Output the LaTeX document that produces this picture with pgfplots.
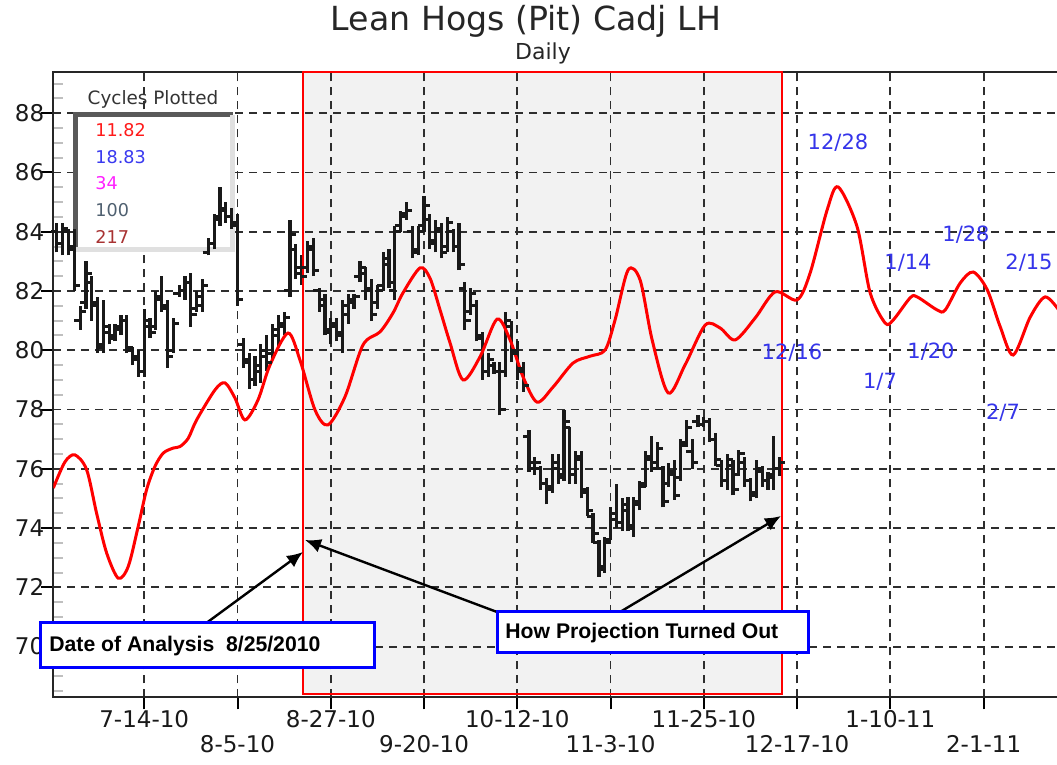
\documentclass[border=0pt]{standalone}
\usepackage{pgfplots}
\pgfplotsset{compat=1.18}
\usepackage{pgfplotstable}
\usepackage{fontspec}
\setmainfont{DejaVu Sans}
\newfontfamily\arialfont{Liberation Sans}
\usetikzlibrary{arrows.meta}
\definecolor{shade}{HTML}{F2F2F2}
\definecolor{lblue}{HTML}{3535EA}
\definecolor{cA}{HTML}{FF1A1A}
\definecolor{cB}{HTML}{3A3AF0}
\definecolor{cC}{HTML}{FF22FF}
\definecolor{cD}{HTML}{4F6070}
\definecolor{cE}{HTML}{A83232}
\pgfdeclareplotmark{ohlcopen}{\pgfpathmoveto{\pgfqpoint{-2.9pt}{0pt}}\pgfpathlineto{\pgfqpoint{0pt}{0pt}}\pgfusepathqstroke}
\pgfdeclareplotmark{ohlcclose}{\pgfpathmoveto{\pgfqpoint{0pt}{0pt}}\pgfpathlineto{\pgfqpoint{2.9pt}{0pt}}\pgfusepathqstroke}

\pgfplotstableread{
k O H L C
-15 84.0 84.3 83.3 83.6
-14 83.6 84.3 83.2 84.1
-13 84.0 84.1 83.2 83.4
-12 83.5 84.1 82.0 82.2
-11 81.0 81.5 80.7 81.3
-10 81.6 83.0 81.4 82.6
-9 82.3 82.5 81.0 81.5
-8 81.6 81.8 79.9 80.1
-7 80.2 81.7 79.9 80.8
-6 80.6 80.9 80.2 80.4
-5 80.5 80.9 80.3 80.8
-4 80.7 81.2 80.5 81.0
-3 81.0 81.2 79.9 80.1
-2 80.0 80.1 79.5 79.7
-1 79.8 80.0 79.1 79.3
0 79.3 81.4 79.1 81.0
1 80.8 81.1 80.4 80.6
2 80.8 82.0 80.7 81.8
3 81.7 82.5 81.3 81.5
4 81.4 81.7 79.4 79.8
5 80.0 81.1 79.9 80.9
6 81.9 82.2 81.8 82.0
7 82.0 82.5 81.7 82.3
8 82.3 82.6 80.8 81.2
9 81.4 82.0 81.3 81.8
10 81.5 82.4 81.3 82.2
11 83.3 83.8 83.2 83.6
12 83.6 84.6 83.4 84.5
13 84.4 85.5 84.2 84.7
14 84.8 85.0 84.3 84.5
15 84.5 84.8 84.1 84.3
16 84.2 84.6 81.5 81.7
17 80.2 80.4 79.4 79.6
18 79.7 79.9 78.7 79.0
19 79.0 79.8 78.8 79.5
20 79.3 80.2 78.9 80.0
21 79.8 80.5 79.3 79.6
22 79.9 80.9 79.7 80.7
23 80.5 81.2 80.1 80.9
24 80.8 81.3 80.5 81.1
25 82.0 84.4 81.8 83.9
26 83.4 83.6 82.4 82.8
27 82.6 83.2 82.2 82.5
28 82.8 83.7 82.6 83.5
29 83.4 83.8 82.5 82.7
30 82.0 82.1 81.3 81.5
31 81.7 81.9 80.5 80.7
32 80.6 81.1 80.2 80.9
33 80.8 81.1 80.3 80.5
34 80.6 81.7 79.9 81.5
35 81.2 81.9 80.9 81.7
36 81.6 81.9 81.4 81.8
37 82.5 83.0 82.3 82.8
38 82.6 82.8 81.7 82.0
39 82.1 82.4 81.0 81.2
40 81.6 82.2 81.4 82.0
41 82.2 83.3 82.0 83.1
42 82.9 83.4 82.1 82.3
43 82.0 84.2 81.7 84.0
44 84.2 84.7 84.0 84.5
45 84.6 85.0 84.4 84.7
46 84.0 84.2 83.1 83.3
47 83.4 84.2 83.2 84.0
48 84.2 85.2 84.0 84.9
49 84.4 84.6 83.4 83.6
50 83.7 84.4 83.3 84.1
51 84.0 84.3 83.1 83.3
52 83.5 84.5 83.3 84.3
53 84.0 84.1 83.3 83.5
54 83.5 84.3 82.7 82.9
55 82.1 82.3 80.7 81.0
56 81.3 82.1 81.2 81.9
57 81.5 81.7 80.3 80.5
58 80.4 80.6 79.0 79.3
59 79.3 79.9 79.1 79.7
60 79.5 79.6 79.2 79.3
61 79.3 79.6 77.8 78.0
62 79.3 81.3 79.1 81.0
63 80.8 81.0 79.6 79.9
64 80.0 80.3 79.0 79.3
65 79.4 79.6 78.6 78.8
66 77.1 77.3 75.9 76.2
67 76.0 76.4 75.8 76.2
68 76.0 76.1 75.3 75.5
69 75.5 75.7 74.8 75.3
70 75.4 76.5 75.2 76.2
71 76.0 76.5 75.5 75.7
72 75.8 78.0 75.6 77.6
73 77.4 77.4 75.5 75.8
74 75.8 76.6 75.5 76.4
75 76.3 76.6 75.0 75.2
76 75.3 75.4 74.4 74.6
77 74.4 74.5 73.5 73.8
78 73.5 73.6 72.35 72.6
79 72.7 73.7 72.5 73.5
80 73.6 74.7 73.6 74.5
81 74.3 75.5 74.0 74.2
82 74.2 75.0 73.9 74.8
83 74.6 75.05 73.9 74.0
84 74.1 75.05 73.7 74.9
85 74.8 75.6 74.6 75.4
86 75.5 76.6 75.4 76.4
87 76.3 77.1 75.9 76.0
88 76.2 76.9 76.0 76.7
89 76.0 76.1 74.7 74.9
90 75.5 76.2 75.4 75.9
91 75.8 76.3 74.95 75.1
92 75.7 77.0 75.6 76.8
93 76.9 77.65 76.75 77.4
94 76.6 77.0 76.0 76.2
95 77.6 77.8 77.4 77.5
96 77.5 77.75 77.4 77.6
97 77.6 77.7 76.9 77.0
98 77.0 77.2 76.1 76.3
99 76.1 76.3 75.4 75.6
100 75.6 76.5 75.3 76.3
101 76.1 76.3 75.1 75.3
102 75.8 76.65 75.75 76.5
103 76.2 76.4 75.4 75.6
104 75.6 75.7 74.9 75.1
105 75.2 76.3 75.0 76.0
106 75.9 76.1 75.4 75.6
107 75.6 75.9 75.3 75.7
108 75.8 77.1 75.3 76.0
109 76.0 76.4 75.75 76.2
}\bars

\begin{document}
\begin{tikzpicture}
\begin{axis}[
  set layers,
  at={(26.65pt,33.85pt)}, anchor=south west,
  scale only axis, width=503.35pt, height=312.8pt,
  xmin=-15.6, xmax=157.1, ymin=68.29, ymax=89.40,
  axis line style={black!85, line width=1pt},
  xtick pos=bottom, ytick pos=left,
  tick align=inside,
  major tick length=6pt, minor tick length=5pt,
  xtick={0,32,64,96,128},
  xticklabels={7-14-10,8-27-10,10-12-10,11-25-10,1-10-11},
  extra x ticks={16,48,80,112,144},
  extra x tick labels={8-5-10,9-20-10,11-3-10,12-17-10,2-1-11},
  extra x tick style={grid=major, tick label style={yshift=-12.5pt}},
  ytick={68,70,...,90},
  minor y tick num=3,
  grid=major,
  major grid style={black!82, line width=0.9pt, dash pattern=on 4pt off 3pt},
  major x tick style={yshift=-6pt, black, line width=1pt},
  major y tick style={xshift=-6pt, black, line width=1pt},
  minor y tick style={black!25, line width=1pt},
  tick label style={font=\fontsize{11.5}{13}\selectfont, text=black!90},
  /pgf/number format/assume math mode=true,
  yticklabel style={xshift=-1pt},
  xticklabel style={yshift=-3pt},
]
% projection window
\addplot[on layer=axis background, fill=shade, draw=none, forget plot]
  coordinates {(27.28,68.39) (27.28,89.4) (109.38,89.4) (109.38,68.39)} -- cycle;
% cycles legend box (behind bars)
\fill[white] (axis cs:-11.75,83.39) rectangle (axis cs:15.14,87.94);
\draw[black!65, line width=2.5pt] (axis cs:-11.75,83.30) -- (axis cs:-11.75,87.94) -- (axis cs:15.25,87.94);
\draw[black!12, line width=2.5pt] (axis cs:15.14,87.94) -- (axis cs:15.14,83.39) -- (axis cs:-11.85,83.39);
% OHLC bars
\addplot[draw=none, mark=none, forget plot,
  error bars/.cd, y dir=plus, y explicit, error mark=none,
  error bar style={draw=black!90, line width=1.6pt, solid}]
  table[x=k, y=L, y error expr=\thisrow{H}-\thisrow{L}] {\bars};
\addplot[only marks, mark=ohlcopen, mark options={draw=black!90, line width=1.5pt}, forget plot]
  table[x=k, y=O] {\bars};
\addplot[only marks, mark=ohlcclose, mark options={draw=black!90, line width=1.5pt}, forget plot]
  table[x=k, y=C] {\bars};
% red border of window
\addplot[red, line width=1pt, forget plot]
  coordinates {(27.28,68.39) (27.28,89.4) (109.38,89.4) (109.38,68.39)} -- cycle;
% projected cycle composite
\addplot[red, line width=1.5pt, smooth, tension=0.5] coordinates {
(-15.6,75.35) (-13.61,76.23) (-11.89,76.47) (-9.88,75.97) (-8.17,74.5) (-6.45,73.16)
(-4.46,72.31) (-2.75,72.7) (-1.03,74.06) (0.41,75.3) (1.84,76.08) (3.26,76.53)
(4.98,76.7) (6.13,76.75) (7.55,77.03) (8.99,77.65) (12.13,78.66) (13.85,78.90)
(15.56,78.39) (17.28,77.65) (19.51,78.32) (21.57,79.50) (24.66,80.58) (26.72,79.67)
(29.29,77.99) (31.52,77.48) (34.44,78.43) (37.53,80.18) (40.45,80.62) (42.68,81.26)
(44.40,81.94) (47.32,82.78) (49.03,82.43) (50.75,81.36) (52.46,80.25) (54.69,79.00)
(57.61,79.78) (60.53,81.05) (62.76,80.35) (64.99,79.10) (67.39,78.25) (70.14,78.76)
(73.57,79.57) (76.49,79.80) (79.07,80.01) (80.78,81.03) (83.01,82.71) (85.07,82.37)
(87.13,80.35) (89.88,78.56) (92.79,79.51) (96.23,80.85) (98.80,80.75) (101.38,80.35)
(104.81,81.09) (108.24,81.97) (112.01,81.70) (114.24,82.61) (117.16,84.74) (119.04,85.51)
(122.30,84.16) (124.53,81.94) (127.10,80.92) (128.48,81.02) (131.40,81.77) (132.60,81.80)
(136.03,81.36) (137.41,81.36) (139.98,82.27) (142.21,82.64) (144.62,82.04) (146.85,80.79)
(149.08,79.84) (151.99,81.12) (154.57,81.80) (157.1,81.3)
};
\end{axis}
\begin{scope}[x=0.5pt, y=-0.5pt, shift={(0pt,382.5pt)}]
\node[font=\fontsize{16.6}{20}\selectfont, text=black!85] at (526,21) {Lean Hogs (Pit) Cadj LH};
\node[font=\fontsize{11}{13}\selectfont, text=black!85] at (543,53) {Daily};
% legend texts
\node[font=\fontsize{9.2}{11}\selectfont, text=black!80] at (153,99) {Cycles Plotted};
\begin{scope}[every node/.style={anchor=west, inner sep=0pt, font=\fontsize{8.8}{10}\selectfont}]
\node[text=cA] at (95,130) {11.82};
\node[text=cB] at (95,157) {18.83};
\node[text=cC] at (95,183) {34};
\node[text=cD] at (95,210) {100};
\node[text=cE] at (95,237) {217};
\end{scope}
% projected turning dates
\begin{scope}[every node/.style={text=lblue, font=\fontsize{10.5}{12}\selectfont}]
\node at (838,143) {12/28};
\node at (908,263) {1/14};
\node at (966,235) {1/28};
\node at (1029,263) {2/15};
\node at (792,353) {12/16};
\node at (931,352) {1/20};
\node at (880,382) {1/7};
\node at (1003,413) {2/7};
\end{scope}
% arrows
\draw[black, line width=1.2pt, -{Latex[length=8pt,width=7pt]}] (205,624) -- (303,552);
\draw[black, line width=1.2pt, -{Latex[length=8pt,width=7pt]}] (497,612) -- (305,540);
\draw[black, line width=1.2pt, -{Latex[length=8pt,width=7pt]}] (620,612) -- (781,516);
% boxes
\draw[blue, line width=1.5pt, fill=white] (40,623) rectangle (374,668);
\node[anchor=west, inner sep=0pt, font=\arialfont\bfseries\fontsize{10.6}{12}\selectfont] at (49,646) {Date of Analysis\ \ 8/25/2010};
\draw[blue, line width=1.5pt, fill=white] (497,612) rectangle (808,653);
\node[anchor=west, inner sep=0pt, font=\arialfont\bfseries\fontsize{10.6}{12}\selectfont] at (505,633) {How Projection Turned Out};
\end{scope}
\pgfresetboundingbox
\useasboundingbox (0,0) rectangle (528.5pt,382.5pt);
\end{tikzpicture}
\end{document}
